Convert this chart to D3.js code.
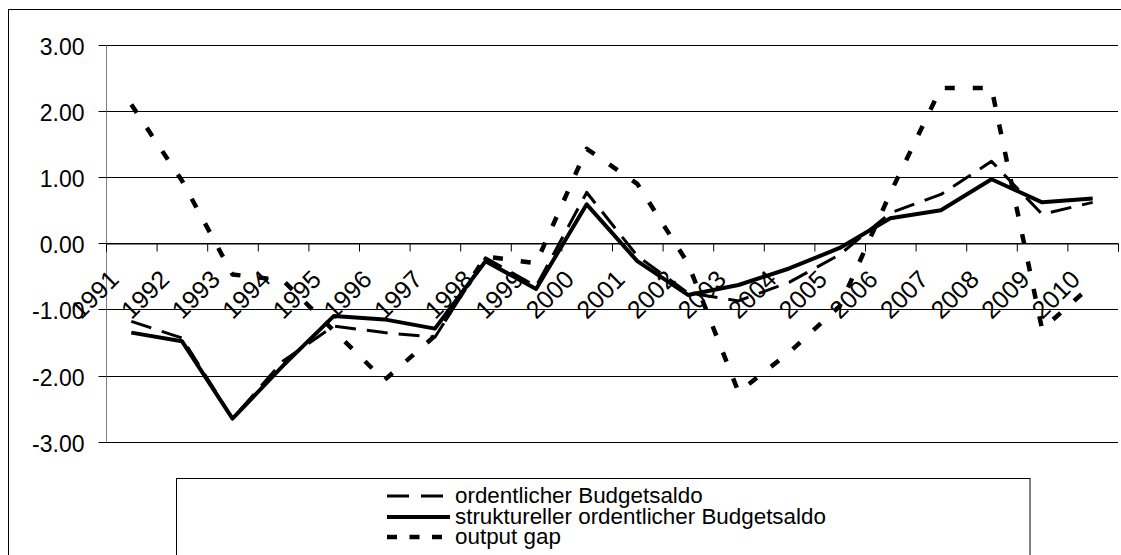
<!DOCTYPE html>
<html>
<head>
<meta charset="utf-8">
<script src="https://cdn.jsdelivr.net/npm/d3@7"></script>
<style>
  html, body { margin: 0; padding: 0; background: #fff; }
  svg { display: block; }
  text { font-family: "Liberation Sans", Arial, sans-serif; fill: #000; }
</style>
</head>
<body>
<svg id="chart" width="1121" height="555"></svg>
<script>
// ---- data ----
const years = ["1991","1992","1993","1994","1995","1996","1997","1998","1999","2000",
               "2001","2002","2003","2004","2005","2006","2007","2008","2009","2010"];
const ordentlicherBudgetsaldo = [-1.18, -1.43, -2.65, -1.78, -1.25, -1.35, -1.42, -0.22, -0.65, 0.77,
                                 -0.19, -0.75, -0.87, -0.59, -0.17, 0.46, 0.74, 1.24, 0.44, 0.62];
const strukturellerBudgetsaldo = [-1.35, -1.48, -2.65, -1.85, -1.10, -1.15, -1.29, -0.27, -0.69, 0.59,
                                  -0.27, -0.78, -0.63, -0.38, -0.07, 0.38, 0.50, 0.97, 0.62, 0.68];
const outputGap = [2.10, 0.95, -0.47, -0.56, -1.32, -2.07, -1.40, -0.20, -0.30, 1.43,
                   0.90, -0.30, -2.25, -1.65, -0.95, 0.76, 2.35, 2.35, -1.30, -0.62];
const yTicks = [-3, -2, -1, 0, 1, 2, 3];
const seriesNames = ["ordentlicher Budgetsaldo", "struktureller ordentlicher Budgetsaldo", "output gap"];

// ---- layout ----
const svg = d3.select("#chart");
const plotL = 106, plotR = 1118, plotT = 45, plotB = 441.7;
const FONT = '"Liberation Sans", Arial, sans-serif';

const x = d3.scaleBand().domain(years).range([plotL, plotR]).padding(0);
const xi = d3.scaleLinear().domain([0, years.length]).range([plotL, plotR]);
const y = d3.scaleLinear().domain([-3, 3]).range([plotB, plotT]);
const cx = d => x(d) + x.bandwidth() / 2;

// outer border
svg.append("rect").attr("x", 8.5).attr("y", 9.5).attr("width", 1200).attr("height", 700)
  .attr("fill", "#fff").attr("stroke", "#000").attr("stroke-width", 1);

// gridlines
svg.append("g").selectAll("line").data(yTicks).join("line")
  .attr("x1", plotL).attr("x2", plotR)
  .attr("y1", d => Math.round(y(d)) + 0.5).attr("y2", d => Math.round(y(d)) + 0.5)
  .attr("stroke", "#000").attr("stroke-width", 1);

// y axis
const yAxis = d3.axisLeft(y).tickValues(yTicks).tickSize(8).tickPadding(14)
  .tickFormat(d => d.toFixed(2));
const gy = svg.append("g").attr("transform", `translate(${plotL + 0.5},0)`).call(yAxis);
gy.select(".domain").attr("stroke", "#808080").attr("d", `M0,${plotT}V${plotB}`);
gy.selectAll(".tick line").attr("stroke", "#000");
gy.selectAll(".tick").attr("transform", d => `translate(0,${Math.round(y(d)) + 0.5})`);
gy.selectAll(".tick text").attr("font-family", FONT).attr("font-size", 23)
  .attr("dy", "0.4em").attr("fill", "#000");

// x axis at zero
const xAxis = d3.axisBottom(xi).tickValues(d3.range(0, years.length + 1)).tickSize(8).tickFormat("");
const gx = svg.append("g").attr("transform", `translate(0,${Math.round(y(0)) + 0.5})`).call(xAxis);
gx.select(".domain").attr("stroke", "#000");
gx.selectAll(".tick line").attr("stroke", "#000");

// category labels
svg.append("g").selectAll("text").data(years).join("text")
  .attr("transform", d => `translate(${cx(d) - 11},${281}) rotate(-45)`)
  .attr("text-anchor", "end")
  .attr("font-size", 25)
  .text(d => d);

// lines
const styles = [
  { data: ordentlicherBudgetsaldo, width: 3, dash: "21,11", legendDash: "22,12" },
  { data: strukturellerBudgetsaldo, width: 4, dash: null, legendDash: null },
  { data: outputGap, width: 4.5, dash: "10,18", legendDash: "10,12.5" }
];
const line = d3.line().x((d, i) => cx(years[i])).y(d => y(d));
styles.forEach(s => {
  svg.append("path").datum(s.data)
    .attr("d", line)
    .attr("fill", "none").attr("stroke", "#000")
    .attr("stroke-width", s.width)
    .attr("stroke-linejoin", "round")
    .attr("stroke-dasharray", s.dash);
});

// legend
svg.append("rect").attr("x", 176.5).attr("y", 478.5).attr("width", 853.5).attr("height", 200)
  .attr("fill", "#fff").attr("stroke", "#000").attr("stroke-width", 1);
const rowsY = [496, 517, 537];
const lg = svg.append("g");
seriesNames.forEach((name, i) => {
  lg.append("line").attr("x1", 387).attr("x2", 450).attr("y1", rowsY[i]).attr("y2", rowsY[i])
    .attr("stroke", "#000").attr("stroke-width", styles[i].width)
    .attr("stroke-dasharray", styles[i].legendDash);
  lg.append("text").attr("x", 455).attr("y", rowsY[i] + 6.5)
    .attr("font-size", 22.4).text(name);
});
</script>
</body>
</html>
